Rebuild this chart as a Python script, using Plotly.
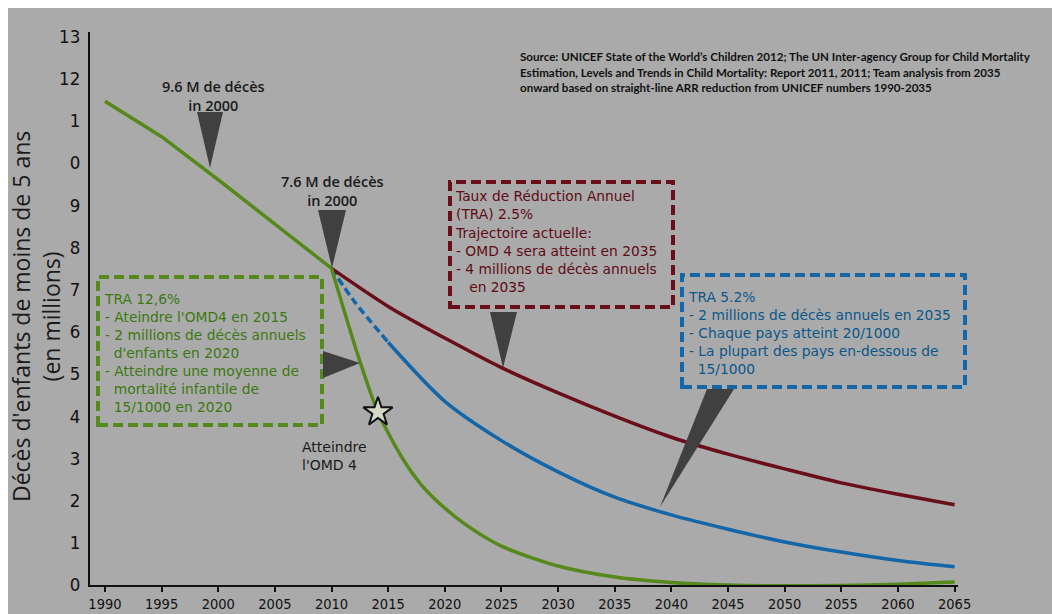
import numpy as np
import plotly.graph_objects as go

# ---------------- data ----------------
hist_years = [1990, 1995, 2000, 2005, 2010]
green_hist = [11.46, 10.62, 9.6, 8.55, 7.5]

green_years = [2010, 2011, 2012, 2013, 2014, 2015, 2016, 2017, 2018, 2020, 2022,
               2025, 2030, 2035, 2040, 2045, 2050, 2055, 2060, 2065]
green_proj = [7.5, 6.6, 5.72, 4.9, 4.15, 3.6, 3.12, 2.7, 2.35, 1.82, 1.4,
              0.92, 0.45, 0.19, 0.06, 0.0, -0.02, -0.01, 0.02, 0.07]

red_years = [2010, 2015, 2020, 2025, 2030, 2035, 2040, 2045, 2050, 2055, 2060, 2065]
red_vals = [7.5, 6.6, 5.85, 5.15, 4.55, 4.0, 3.5, 3.1, 2.75, 2.42, 2.15, 1.9]

blue_years = [2010, 2012, 2015, 2020, 2025, 2030, 2035, 2040, 2045, 2050, 2055, 2060, 2065]
blue_vals = [7.5, 6.72, 5.75, 4.35, 3.42, 2.68, 2.08, 1.66, 1.32, 1.02, 0.78, 0.58, 0.43]

x_ticks = list(range(1990, 2066, 5))
y_ticks = list(range(0, 14))
y_ticktext = ["0", "1", "2", "3", "4", "5", "6", "7", "8", "9", "0", "1", "12", "13"]

star_year = 2014.1

# ---------------- layout geometry ----------------
L, T, W, H = 90, 32, 868, 553
FW, FH = 1052, 614
X0, X1 = 1988.68, 2065.3
Y0, Y1 = 0.0, 13.1

def px(x):  # pixel x -> paper
    return (x - L) / W

def py(y):  # pixel y -> paper
    return (T + H - y) / H

BG = "#aaaaaa"
GREEN = "#55891b"
GREEN_T = "#3b7810"
RED = "#6a0e19"
RED_T = "#600a14"
BLUE = "#1366a8"
BLUE_T = "#0b578a"
TRI = "#404040"
TXT = "#161616"
BOXFONT = "DejaVu Sans"

fig = go.Figure()

bi = blue_years.index(2015)
fig.add_trace(go.Scatter(x=blue_years[:bi + 1], y=blue_vals[:bi + 1], mode="lines",
                         line=dict(color=BLUE, width=3.5, dash="8px,4px", shape="spline", smoothing=0.8),
                         hoverinfo="skip"))
fig.add_trace(go.Scatter(x=red_years, y=red_vals, mode="lines",
                         line=dict(color=RED, width=3.5, shape="spline", smoothing=0.8),
                         hoverinfo="skip"))
fig.add_trace(go.Scatter(x=blue_years[bi:], y=blue_vals[bi:], mode="lines",
                         line=dict(color=BLUE, width=3.5, shape="spline", smoothing=0.8),
                         hoverinfo="skip"))
fig.add_trace(go.Scatter(x=hist_years, y=green_hist, mode="lines",
                         line=dict(color=GREEN, width=3.5), hoverinfo="skip"))
fig.add_trace(go.Scatter(x=green_years, y=green_proj, mode="lines",
                         line=dict(color=GREEN, width=3.5, shape="spline", smoothing=0.8),
                         hoverinfo="skip"))
fig.add_trace(go.Scatter(x=[star_year], y=[float(np.interp(star_year, green_years, green_proj))],
                         mode="markers",
                         marker=dict(symbol="star", size=22, color="#d4dac6",
                                     line=dict(color="#111111", width=2)),
                         hoverinfo="skip"))

shapes = []
shapes.append(dict(type="rect", xref="paper", yref="paper", x0=px(0), x1=px(FW), y0=py(8), y1=py(0),
                   fillcolor="white", line=dict(width=0), layer="below"))
shapes.append(dict(type="rect", xref="paper", yref="paper", x0=px(0), x1=px(8), y0=py(FH), y1=py(0),
                   fillcolor="white", line=dict(width=0), layer="below"))

def box(x0, y0, x1, y1, color):
    shapes.append(dict(type="rect", xref="paper", yref="paper",
                       x0=px(x0), x1=px(x1), y0=py(y1), y1=py(y0),
                       line=dict(color=color, width=4, dash="10px,5px"),
                       fillcolor="rgba(0,0,0,0)"))

def tri(p1, p2, tip):
    path = "M {:.5f},{:.5f} L {:.5f},{:.5f} L {:.5f},{:.5f} Z".format(
        px(p1[0]), py(p1[1]), px(p2[0]), py(p2[1]), px(tip[0]), py(tip[1]))
    shapes.append(dict(type="path", xref="paper", yref="paper", path=path,
                       fillcolor=TRI, line=dict(width=0)))

box(98, 277, 322, 425, GREEN)
box(450, 182, 673, 307, RED)
box(682, 275, 965, 387, BLUE)

tri((197, 112), (223, 112), (210, 168))
tri((318, 210), (346, 210), (332, 268))
tri((323, 351), (323, 378), (360, 363))
tri((490, 312), (517, 312), (503, 368))
tri((707, 389), (734, 389), (660, 507))

annotations = []

def text(x, y, s, color=TXT, size=13.5, family="Open Sans", anchor="left", weight="normal"):
    annotations.append(dict(xref="paper", yref="paper", x=px(x), y=py(y), text=s,
                            showarrow=False, xanchor=anchor, yanchor="middle", align=anchor,
                            borderpad=0,
                            font=dict(family=family, size=size, color=color, weight=weight)))

src = ["Source: UNICEF State of the World\u2019s Children 2012; The UN Inter-agency Group for Child Mortality",
       "Estimation, Levels and Trends in Child Mortality: Report 2011, 2011; Team analysis from 2035",
       "onward based on straight-line ARR reduction from UNICEF numbers 1990-2035"]
for yy, s in zip([56, 72, 87], src):
    text(519, yy, s, color="#111111", size=11.6, family="Lato", weight="bold")

text(213, 96, "9.6 M de décès<br>in 2000", anchor="center", size=14.5, weight=600, color="#1a1a1a")
text(332, 191, "7.6 M de décès<br>in 2000", anchor="center", size=14.5, weight=600, color="#1a1a1a")
text(301, 456, "Atteindre<br>l'OMD 4", size=14, family=BOXFONT, color="#1a1a1a")

green_lines = ["TRA 12,6%", "- Ateindre l'OMD4 en 2015", "- 2 millions de décès annuels",
               "  d'enfants en 2020", "- Atteindre une moyenne de", "  mortalité infantile de",
               "  15/1000 en 2020"]
red_lines_a = ["Taux de Réduction Annuel", "(TRA) 2.5%"]
red_lines_b = ["Trajectoire actuelle:", "- OMD 4 sera atteint en 2035",
               "- 4 millions de décès annuels", "   en 2035"]
blue_lines = ["TRA 5.2%", "- 2 millions de décès annuels en 2035", "- Chaque pays atteint 20/1000",
              "- La plupart des pays en-dessous de", "  15/1000"]

def block(x, y_center, lst, color):
    s = "<br>".join(l.replace("  ", "&nbsp;&nbsp;") for l in lst)
    text(x, y_center, s, color=color, size=13.8, family=BOXFONT)

block(103, 352.5, green_lines, GREEN_T)
block(454, 205, red_lines_a, RED_T)
block(454, 260, red_lines_b, RED_T)
block(687, 333.5, blue_lines, BLUE_T)

annotations.append(dict(xref="paper", yref="paper", x=px(36), y=py(317),
                        text="Décès d'enfants de moins de 5 ans<br>(en millions)",
                        textangle=-90, showarrow=False, xanchor="center", yanchor="middle",
                        borderpad=0,
                        font=dict(family="Open Sans", size=23, color="#1a1a1a")))

fig.update_layout(
    width=FW, height=FH,
    margin=dict(l=L, r=FW - L - W, t=T, b=FH - T - H, autoexpand=False),
    paper_bgcolor=BG, plot_bgcolor=BG,
    showlegend=False,
    shapes=shapes, annotations=annotations,
    xaxis=dict(range=[X0, X1], tickmode="array", tickvals=x_ticks,
               ticktext=[str(v) for v in x_ticks],
               showgrid=False, zeroline=False, showline=True, linecolor="#111111", linewidth=2,
               ticks="outside", ticklen=5, tickwidth=1.5, tickcolor="#111111",
               tickfont=dict(family="Liberation Sans Narrow, DejaVu Sans Condensed, sans-serif",
                             size=14.5, color="#111111")),
    yaxis=dict(range=[Y0, Y1], tickmode="array", tickvals=y_ticks, ticktext=y_ticktext,
               showgrid=False, zeroline=False, showline=True, linecolor="#111111", linewidth=2,
               ticks="", ticklabelstandoff=4,
               tickfont=dict(family="Liberation Sans Narrow, DejaVu Sans Condensed, sans-serif",
                             size=18.5, color="#111111")),
)

fig.write_html("out.html")
